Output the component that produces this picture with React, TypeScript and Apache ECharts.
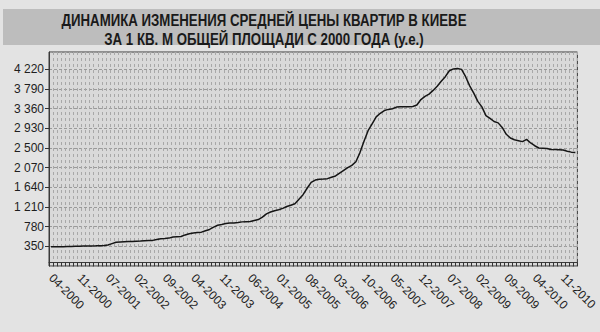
import React, { useEffect, useRef } from "react";
import * as echarts from "echarts";

const TITLE_LINES = [
  "ДИНАМИКА ИЗМЕНЕНИЯ СРЕДНЕЙ ЦЕНЫ КВАРТИР В КИЕВЕ",
  "ЗА 1 КВ. М ОБЩЕЙ ПЛОЩАДИ С 2000 ГОДА (у.е.)",
];

const MONTHS = [
  "04-2000", "05-2000", "06-2000", "07-2000", "08-2000", "09-2000", "10-2000", "11-2000", "12-2000",
  "02-2001", "03-2001", "04-2001", "05-2001", "06-2001", "07-2001", "08-2001", "09-2001", "10-2001", "11-2001", "12-2001",
  "01-2002", "02-2002", "03-2002", "04-2002", "05-2002", "06-2002", "07-2002", "08-2002", "09-2002", "10-2002", "11-2002", "12-2002",
  "01-2003", "02-2003", "03-2003", "04-2003", "05-2003", "06-2003", "07-2003", "08-2003", "09-2003", "10-2003", "11-2003", "12-2003",
  "01-2004", "02-2004", "03-2004", "04-2004", "05-2004", "06-2004", "07-2004", "08-2004", "09-2004", "10-2004", "11-2004", "12-2004",
  "01-2005", "02-2005", "03-2005", "04-2005", "05-2005", "06-2005", "07-2005", "08-2005", "09-2005", "10-2005", "11-2005", "12-2005",
  "01-2006", "02-2006", "03-2006", "04-2006", "05-2006", "06-2006", "07-2006", "08-2006", "09-2006", "10-2006", "11-2006", "12-2006",
  "01-2007", "02-2007", "03-2007", "04-2007", "05-2007", "06-2007", "07-2007", "08-2007", "09-2007", "10-2007", "11-2007", "12-2007",
  "01-2008", "02-2008", "03-2008", "04-2008", "05-2008", "06-2008", "07-2008", "08-2008", "09-2008", "10-2008", "11-2008", "12-2008",
  "01-2009", "02-2009", "03-2009", "04-2009", "05-2009", "06-2009", "07-2009", "08-2009", "09-2009", "10-2009", "11-2009", "12-2009",
  "01-2010", "02-2010", "03-2010", "04-2010", "05-2010", "06-2010", "07-2010", "08-2010", "09-2010", "10-2010", "11-2010", "12-2010",
  "01-2011", "02-2011",
];

const PRICES = [
  340, 340, 340, 342, 345, 348, 350, 352, 355, 358,
  360, 362, 365, 370, 380, 410, 440, 445, 450, 455,
  458, 462, 465, 470, 475, 480, 500, 518, 522, 530,
  555, 560, 565, 600, 625, 640, 655, 660, 690, 720,
  770, 810, 828, 850, 858, 862, 870, 885, 890, 895,
  915, 935, 990, 1060, 1100, 1130, 1150, 1180, 1220, 1250,
  1280, 1380, 1480, 1620, 1750, 1800, 1815, 1820, 1830, 1860,
  1890, 1950, 2010, 2070, 2120, 2200, 2400, 2650, 2880, 3030,
  3180, 3260, 3320, 3345, 3360, 3395, 3400, 3405, 3405, 3410,
  3440, 3560, 3630, 3680, 3760, 3850, 3960, 4060, 4190, 4230,
  4240, 4220, 4060, 3860, 3700, 3520, 3400, 3210, 3150, 3080,
  3050, 2950, 2800, 2720, 2680, 2660, 2640, 2690, 2610, 2550,
  2500, 2495, 2490, 2470, 2465, 2460, 2455, 2430, 2410, 2400,
];

const Y_MIN = -80;
const Y_MAX = 4600;
const Y_STEP = 430;

function fmt(v: number): string {
  if (v >= 1000) {
    const th = Math.floor(v / 1000);
    const rest = String(v % 1000).padStart(3, "0");
    return th + " " + rest;
  }
  return String(v);
}

export default function App() {
  const ref = useRef<HTMLDivElement>(null);
  useEffect(() => {
    if (!ref.current) return;
    const chart = echarts.init(ref.current, undefined, { renderer: "svg" });
    chart.setOption({
      animation: false,
      backgroundColor: "#e3e3e3",
      graphic: [
        {
          type: "rect",
          shape: { x: 3, y: 9, width: 597, height: 36 },
          style: { fill: "#bdbdbd" },
          z: -1,
        },
        {
          type: "text",
          x: 264,
          y: 20,
          scaleX: 0.78,
          style: {
            text: TITLE_LINES[0],
            textAlign: "center",
            textVerticalAlign: "middle",
            font: 'bold 17px "Liberation Sans", Arial, sans-serif',
            fill: "#1a1a1a",
          },
        },
        {
          type: "text",
          x: 264,
          y: 38.5,
          scaleX: 0.78,
          style: {
            text: TITLE_LINES[1],
            textAlign: "center",
            textVerticalAlign: "middle",
            font: 'bold 17px "Liberation Sans", Arial, sans-serif',
            fill: "#1a1a1a",
          },
        },
      ],
      grid: {
        left: 49,
        top: 52,
        right: 8,
        bottom: 66,
        show: true,
        backgroundColor: "#d9d9d9",
        borderColor: "#3a3a3a",
        borderWidth: 1,
      },
      xAxis: {
        type: "category",
        data: MONTHS,
        boundaryGap: true,
        axisLine: { show: true, lineStyle: { color: "#3a3a3a", width: 1 } },
        axisTick: {
          show: true,
          interval: 0,
          length: 4,
          lineStyle: { color: "#333" },
        },
        axisLabel: {
          interval: 6,
          rotate: -45,
          margin: 10,
          color: "#1e1e1e",
          fontSize: 12,
          fontFamily: '"Liberation Sans", Arial, sans-serif',
        },
        splitLine: {
          show: true,
          interval: 0,
          lineStyle: { color: "#a8a8a8", width: 1, type: [3, 3] },
        },
      },
      yAxis: {
        type: "value",
        min: Y_MIN,
        max: Y_MAX,
        interval: Y_STEP,
        axisLine: { show: true, lineStyle: { color: "#3a3a3a" } },
        axisTick: { show: true, length: 4, lineStyle: { color: "#333" } },
        axisLabel: {
          showMinLabel: false,
          showMaxLabel: false,
          margin: 5,
          color: "#1e1e1e",
          fontSize: 12,
          fontFamily: '"Liberation Sans", Arial, sans-serif',
          formatter: (v: number) => fmt(v),
        },
        splitLine: {
          show: true,
          lineStyle: { color: "#9a9a9a", width: 1, type: [3, 2] },
        },
      },
      series: [
        {
          type: "line",
          data: PRICES,
          symbol: "none",
          smooth: false,
          lineStyle: { color: "#151515", width: 1.5 },
        },
      ],
    });
    return () => chart.dispose();
  }, []);
  return (
    <div
      ref={ref}
      style={{ position: "fixed", left: 0, top: 0, width: 600, height: 332 }}
    />
  );
}
